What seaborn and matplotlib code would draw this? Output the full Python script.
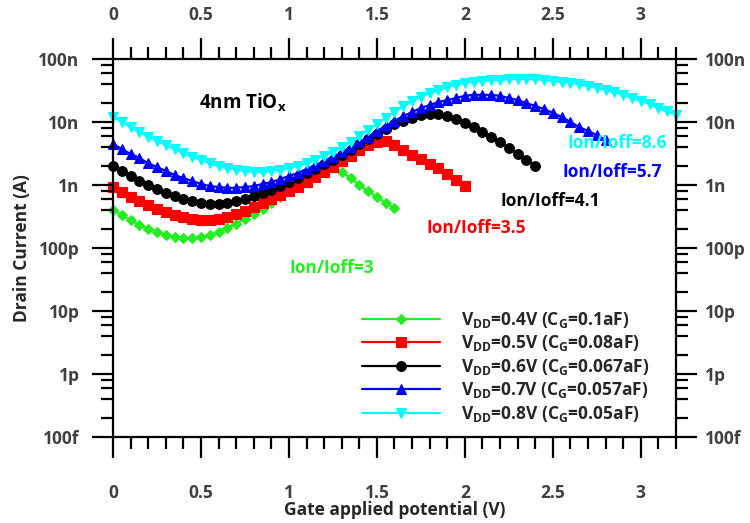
import numpy as np
import matplotlib
matplotlib.use("Agg")
import matplotlib.pyplot as plt
from matplotlib.lines import Line2D
import seaborn as sns
from matplotlib.ticker import (FixedLocator, FixedFormatter, MultipleLocator,
                               LogLocator, NullFormatter, FuncFormatter)

# ---------------- data ----------------
gate_v = [0.00, 0.05, 0.10, 0.15, 0.20, 0.25, 0.30, 0.35, 0.40, 0.45,
          0.50, 0.55, 0.60, 0.65, 0.70, 0.75, 0.80, 0.85, 0.90, 0.95,
          1.00, 1.05, 1.10, 1.15, 1.20, 1.25, 1.30, 1.35, 1.40, 1.45,
          1.50, 1.55, 1.60, 1.65, 1.70, 1.75, 1.80, 1.85, 1.90, 1.95,
          2.00, 2.05, 2.10, 2.15, 2.20, 2.25, 2.30, 2.35, 2.40, 2.45,
          2.50, 2.55, 2.60, 2.65, 2.70, 2.75, 2.80, 2.85, 2.90, 2.95,
          3.00, 3.05, 3.10, 3.15, 3.20]

i_vdd04 = [4.0e-10, 3.3e-10, 2.8e-10, 2.3e-10, 2.0e-10, 1.8e-10, 1.6e-10, 1.5e-10, 1.44e-10, 1.44e-10,
           1.5e-10, 1.6e-10, 1.8e-10, 2.1e-10, 2.4e-10, 2.9e-10, 3.5e-10, 4.2e-10, 5.2e-10, 6.5e-10,
           8.0e-10, 9.6e-10, 1.2e-9, 1.44e-9, 1.73e-9, 1.93e-9, 1.61e-9, 1.29e-9, 1.0e-9, 8.0e-10,
           6.5e-10, 5.2e-10, 4.3e-10]

i_vdd05 = [9.3e-10, 7.7e-10, 6.5e-10, 5.6e-10, 4.8e-10, 4.2e-10, 3.7e-10, 3.3e-10, 3.1e-10, 2.9e-10,
           2.8e-10, 2.8e-10, 2.9e-10, 3.1e-10, 3.5e-10, 3.9e-10, 4.5e-10, 5.2e-10, 6.0e-10, 6.9e-10,
           8.0e-10, 9.3e-10, 1.11e-9, 1.34e-9, 1.61e-9, 1.93e-9, 2.4e-9, 2.9e-9, 3.6e-9, 4.3e-9,
           4.8e-9, 5.0e-9, 4.3e-9, 3.6e-9, 3.0e-9, 2.6e-9, 2.15e-9, 1.86e-9, 1.49e-9, 1.2e-9,
           9.6e-10]

i_vdd06 = [2.0e-9, 1.67e-9, 1.39e-9, 1.16e-9, 1.0e-9, 8.6e-10, 7.5e-10, 6.7e-10, 6.0e-10, 5.6e-10,
           5.2e-10, 5.0e-10, 5.0e-10, 5.2e-10, 5.6e-10, 6.0e-10, 6.7e-10, 7.5e-10, 8.3e-10, 9.6e-10,
           1.11e-9, 1.29e-9, 1.55e-9, 1.79e-9, 2.15e-9, 2.5e-9, 3.0e-9, 3.6e-9, 4.5e-9, 5.4e-9,
           6.5e-9, 7.7e-9, 9.3e-9, 1.04e-8, 1.16e-8, 1.29e-8, 1.34e-8, 1.34e-8, 1.24e-8, 1.11e-8,
           9.6e-9, 8.3e-9, 6.9e-9, 5.8e-9, 4.8e-9, 3.9e-9, 3.1e-9, 2.5e-9, 2.0e-9]

i_vdd07 = [4.5e-9, 3.7e-9, 3.1e-9, 2.7e-9, 2.2e-9, 1.93e-9, 1.67e-9, 1.44e-9, 1.29e-9, 1.16e-9,
           1.04e-9, 9.6e-10, 9.3e-10, 9.0e-10, 9.0e-10, 9.3e-10, 9.6e-10, 1.04e-9, 1.11e-9, 1.24e-9,
           1.39e-9, 1.55e-9, 1.79e-9, 2.07e-9, 2.4e-9, 2.8e-9, 3.3e-9, 4.0e-9, 4.8e-9, 5.8e-9,
           7.2e-9, 8.6e-9, 1.04e-8, 1.24e-8, 1.44e-8, 1.67e-8, 1.86e-8, 2.07e-8, 2.23e-8, 2.4e-8,
           2.6e-8, 2.7e-8, 2.7e-8, 2.7e-8, 2.6e-8, 2.4e-8, 2.23e-8, 2.0e-8, 1.79e-8, 1.61e-8,
           1.39e-8, 1.2e-8, 1.0e-8, 8.3e-9, 7.2e-9, 6.2e-9, 5.2e-9]

i_vdd08 = [1.2e-8, 1.0e-8, 8.3e-9, 6.9e-9, 5.8e-9, 5.0e-9, 4.3e-9, 3.7e-9, 3.2e-9, 2.8e-9,
           2.5e-9, 2.2e-9, 2.0e-9, 1.86e-9, 1.73e-9, 1.67e-9, 1.61e-9, 1.61e-9, 1.67e-9, 1.73e-9,
           1.86e-9, 2.0e-9, 2.2e-9, 2.5e-9, 2.9e-9, 3.3e-9, 4.0e-9, 4.8e-9, 6.0e-9, 7.5e-9,
           9.3e-9, 1.16e-8, 1.44e-8, 1.79e-8, 2.15e-8, 2.5e-8, 2.9e-8, 3.2e-8, 3.6e-8, 3.9e-8,
           4.2e-8, 4.3e-8, 4.5e-8, 4.6e-8, 4.6e-8, 4.8e-8, 4.8e-8, 4.8e-8, 4.8e-8, 4.6e-8,
           4.5e-8, 4.3e-8, 4.2e-8, 4.0e-8, 3.7e-8, 3.5e-8, 3.2e-8, 3.0e-8, 2.7e-8, 2.4e-8,
           2.15e-8, 1.93e-8, 1.67e-8, 1.49e-8, 1.29e-8]

series_labels = [r"V$_{\mathbf{DD}}$=0.4V (C$_{\mathbf{G}}$=0.1aF)",
                 r"V$_{\mathbf{DD}}$=0.5V (C$_{\mathbf{G}}$=0.08aF)",
                 r"V$_{\mathbf{DD}}$=0.6V (C$_{\mathbf{G}}$=0.067aF)",
                 r"V$_{\mathbf{DD}}$=0.7V (C$_{\mathbf{G}}$=0.057aF)",
                 r"V$_{\mathbf{DD}}$=0.8V (C$_{\mathbf{G}}$=0.05aF)"]
ratio_labels = ["Ion/Ioff=3", "Ion/Ioff=3.5", "Ion/Ioff=4.1", "Ion/Ioff=5.7", "Ion/Ioff=8.6"]

y_tick_vals = [1e-13, 1e-12, 1e-11, 1e-10, 1e-9, 1e-8, 1e-7]
y_tick_labels = ["100f", "1p", "10p", "100p", "1n", "10n", "100n"]

# ---------------- style ----------------
sns.set_theme(style="ticks")
plt.rcParams["font.family"] = ["Open Sans", "DejaVu Sans"]
plt.rcParams["font.weight"] = "bold"
plt.rcParams["axes.labelweight"] = "bold"
plt.rcParams["mathtext.fontset"] = "custom"
plt.rcParams["mathtext.rm"] = "Open Sans:bold"
plt.rcParams["mathtext.bf"] = "Open Sans:bold"
plt.rcParams["mathtext.it"] = "Open Sans:bold"

colors = ["#22ee22", "#ff0000", "#000000", "#0000ff", "#00ffff"]
markers = ["D", "s", "o", "^", "v"]
msizes = [5.5, 7, 7, 7.5, 7.5]
currents = [i_vdd04, i_vdd05, i_vdd06, i_vdd07, i_vdd08]

# ---------------- layout (pixels) ----------------
W, H = 750, 523
BOX_L, BOX_R, BOX_T, BOX_B = 113, 676, 59, 437      # plot frame
MAJ, MIN = 21, 12                                   # tick lengths
OUT_L, OUT_R, OUT_T, OUT_B = BOX_L - MAJ, BOX_R + MAJ, BOX_T - MAJ, BOX_B + MAJ
OW, OH = OUT_R - OUT_L, OUT_B - OUT_T
lw = 1.6
tick_col = "#404040"
XLIM = (0, 3.2)
YLIM = (1e-13, 1e-7)

def to_axes(px, py):
    return (px - OUT_L) / OW, (OUT_B - py) / OH

fig = plt.figure(figsize=(W / 100, H / 100), dpi=100)
ax = fig.add_axes([OUT_L / W, 1 - OUT_B / H, OW / W, OH / H])
ax.set_yscale("log")

for cur, c, m, ms, lab in zip(currents, colors, markers, msizes, series_labels):
    sns.lineplot(x=gate_v[:len(cur)], y=cur, ax=ax, color=c, marker=m,
                 markersize=ms, markeredgecolor=c, markeredgewidth=0.8,
                 linewidth=1.6, label=lab)

# the axes extend one major-tick length beyond the frame so the ticks sit inside
px_per_v = (BOX_R - BOX_L) / (XLIM[1] - XLIM[0])
px_per_dec = (BOX_B - BOX_T) / np.log10(YLIM[1] / YLIM[0])
XLIM_EXT = (XLIM[0] - MAJ / px_per_v, XLIM[1] + MAJ / px_per_v)
YLIM_EXT = (YLIM[0] / 10 ** (MAJ / px_per_dec), YLIM[1] * 10 ** (MAJ / px_per_dec))

def style_x(axis_obj):
    axis_obj.set_major_locator(MultipleLocator(0.5))
    axis_obj.set_minor_locator(MultipleLocator(0.1))
    axis_obj.set_major_formatter(FuncFormatter(lambda v, p: f"{v:g}"))

def style_y(axis_obj):
    axis_obj.set_major_locator(FixedLocator(y_tick_vals))
    axis_obj.set_major_formatter(FixedFormatter(y_tick_labels))
    axis_obj.set_minor_locator(LogLocator(base=10, subs=(2, 4, 6, 8), numticks=30))
    axis_obj.set_minor_formatter(NullFormatter())

ax.set_xlim(*XLIM_EXT)
ax.set_ylim(*YLIM_EXT)
style_x(ax.xaxis)
style_y(ax.yaxis)
ax.tick_params(which="both", length=0)
ax.tick_params(axis="x", which="major", pad=18.7, labelsize=12.5, labelcolor=tick_col)
ax.tick_params(axis="y", which="major", pad=8.9, labelsize=12.5, labelcolor=tick_col)

ax_top = ax.twiny()
ax_top.set_xlim(*XLIM_EXT)
style_x(ax_top.xaxis)
ax_top.tick_params(which="both", length=0, pad=9.9, labelsize=12.5, labelcolor=tick_col)

ax_right = ax.twinx()
ax_right.set_yscale("log")
ax_right.set_ylim(*YLIM_EXT)
style_y(ax_right.yaxis)
ax_right.tick_params(which="both", length=0, pad=5.9, labelsize=12.5, labelcolor=tick_col)

for a in (ax, ax_top, ax_right):
    for s in a.spines.values():
        s.set_visible(False)

# frame
bx0, by0 = to_axes(BOX_L, BOX_B)
bx1, by1 = to_axes(BOX_R, BOX_T)
ax.add_line(Line2D([bx0, bx1, bx1, bx0, bx0], [by0, by0, by1, by1, by0],
                   transform=ax.transAxes, color="black", linewidth=lw,
                   solid_joinstyle="miter", zorder=4, clip_on=False))

# outward ticks on all four sides (inside the enlarged axes)
xmaj = [v for v in ax.xaxis.get_majorticklocs() if XLIM[0] - 1e-9 <= v <= XLIM[1] + 1e-9]
xmin = [v for v in ax.xaxis.get_minorticklocs() if XLIM[0] - 1e-9 <= v <= XLIM[1] + 1e-9]
ymaj = [v for v in ax.yaxis.get_majorticklocs() if YLIM[0] * 0.999 <= v <= YLIM[1] * 1.001]
ymin = [v for v in ax.yaxis.get_minorticklocs() if YLIM[0] * 0.999 <= v <= YLIM[1] * 1.001]

def seg_path(vals, a0, a1, along_x):
    p, q = [], []
    for v in vals:
        p += [v, v, np.nan]
        q += [a0, a1, np.nan]
    return (p, q) if along_x else (q, p)

tick_specs = [
    (xmaj, by0, by0 - MAJ / OH, True), (xmaj, by1, by1 + MAJ / OH, True),
    (xmin, by0, by0 - MIN / OH, True), (xmin, by1, by1 + MIN / OH, True),
    (ymaj, bx0, bx0 - MAJ / OW, False), (ymaj, bx1, bx1 + MAJ / OW, False),
    (ymin, bx0, bx0 - MIN / OW, False), (ymin, bx1, bx1 + MIN / OW, False),
]
for vals, a0, a1, along_x in tick_specs:
    xs, ys = seg_path(vals, a0, a1, along_x)
    tr = ax.get_xaxis_transform() if along_x else ax.get_yaxis_transform()
    ax.add_line(Line2D(xs, ys, transform=tr, color="black", linewidth=lw,
                       solid_capstyle="butt", zorder=4, clip_on=False))

ax.set_xlim(*XLIM_EXT)
ax.set_ylim(*YLIM_EXT)

ax.set_xlabel("Gate applied potential (V)", fontsize=12.5, va="center")
ax.xaxis.set_label_coords(*to_axes(395, 510))
ax.set_ylabel("Drain Current (A)", fontsize=12.5, va="center")
ax.yaxis.set_label_coords(*to_axes(22, 248))

ax.text(*to_axes(243, 103), r"4nm TiO$_{\mathbf{x}}$", transform=ax.transAxes,
        ha="center", va="center", fontsize=13.5, color="black")

ratio_px = [(332, 268), (476, 228), (550, 201), (612, 172), (617, 143)]
for (px, py), txt, c in zip(ratio_px, ratio_labels, colors):
    ax.text(*to_axes(px, py), txt, transform=ax.transAxes, ha="center", va="center",
            fontsize=12.5, color=c)

leg = ax.legend(loc="upper left", bbox_to_anchor=to_axes(362, 310),
                frameon=False, fontsize=12.5, handlelength=4.5, handletextpad=1.2,
                borderpad=0, borderaxespad=0, labelspacing=0.2, numpoints=1)

fig.savefig("out.png", dpi=100)
